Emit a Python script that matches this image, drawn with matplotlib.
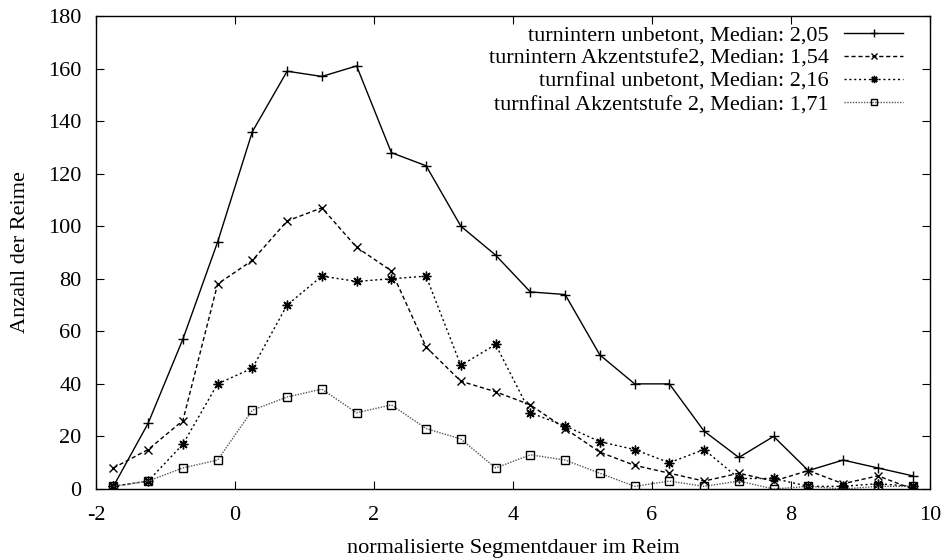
import matplotlib
matplotlib.use("Agg")
import matplotlib.pyplot as plt

x = [-1.75, -1.25, -0.75, -0.25, 0.25, 0.75, 1.25, 1.75, 2.25, 2.75, 3.25, 3.75,
     4.25, 4.75, 5.25, 5.75, 6.25, 6.75, 7.25, 7.75, 8.25, 8.75, 9.25, 9.75]

intern_unbetont = [1, 25, 57, 94, 136, 159, 157, 161, 128, 123, 100, 89,
                   75, 74, 51, 40, 40, 22, 12, 20, 7, 11, 8, 5]
intern_akzent2 = [8, 15, 26, 78, 87, 102, 107, 92, 83, 54, 41, 37,
                  32, 23, 14, 9, 6, 3, 6, 3, 7, 2, 5, 0]
final_unbetont = [1, 3, 17, 40, 46, 70, 81, 79, 80, 81, 47, 55,
                  29, 24, 18, 15, 10, 15, 4, 4, 1, 1, 2, 1]
final_akzent2 = [1, 3, 8, 11, 30, 35, 38, 29, 32, 23, 19, 8,
                 13, 11, 6, 1, 3, 1, 3, 0, 1, 0, 1, 1]

labels = ["turnintern unbetont, Median: 2,05",
          "turnintern Akzentstufe2, Median: 1,54",
          "turnfinal unbetont, Median: 2,16",
          "turnfinal Akzentstufe 2, Median: 1,71"]

xticks = [-2, 0, 2, 4, 6, 8, 10]
yticks = [0, 20, 40, 60, 80, 100, 120, 140, 160, 180]

plt.rcParams['font.family'] = ['Liberation Serif', 'DejaVu Serif']
plt.rcParams['font.size'] = 16
plt.rcParams['axes.unicode_minus'] = False

fig = plt.figure(figsize=(9.43, 5.58), dpi=100)
ax = fig.add_axes([0.1018, 0.1237, 0.8844, 0.8476])

ax.plot(x, intern_unbetont, color='black', lw=1.0, ls='-', marker='+', ms=7, mew=1.0,
        label=labels[0])
ax.plot(x, intern_akzent2, color='black', lw=1.0, ls=(0, (3, 2)), marker='x', ms=6, mew=1.0,
        label=labels[1])
ax.plot(x, final_unbetont, color='black', lw=1.0, ls=(0, (1.5, 2)), marker=(8, 2, 0), ms=7, mew=1.0,
        label=labels[2])
ax.plot(x, final_akzent2, color='#555555', lw=1.0, ls=(0, (1, 1)), marker='s', ms=6, mew=1.0,
        mfc='none', mec='black', label=labels[3])

ax.set_xlim(-2, 10)
ax.set_ylim(0, 180)
ax.set_xticks(xticks)
ax.set_yticks(yticks)
ax.tick_params(direction='in', top=True, right=True, length=6, width=0.8)
ax.tick_params(axis='x', pad=12.5)
ax.tick_params(axis='y', pad=10.3)
for s in ax.spines.values():
    s.set_linewidth(1.0)

ax.set_xlabel("normalisierte Segmentdauer im Reim", labelpad=10)
ax.set_ylabel("Anzahl der Reime", labelpad=13)

leg = ax.legend(loc='upper right', frameon=False, markerfirst=False, handlelength=2.65,
                handletextpad=0.7, labelspacing=0.12, borderaxespad=0.0, borderpad=0.0,
                markerscale=0.75,
                bbox_to_anchor=(903 / 943, (558 - 25) / 558), bbox_transform=fig.transFigure)

fig.savefig("out.png", dpi=100)
